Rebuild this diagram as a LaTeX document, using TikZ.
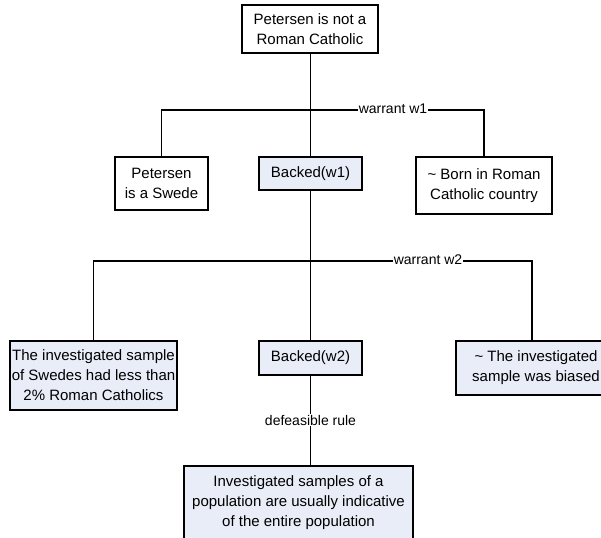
\documentclass[tikz,border=0pt]{standalone}
\usepackage{fontspec}
\setmainfont{Liberation Sans}
\definecolor{boxfill}{RGB}{232,237,247}
\begin{document}
\begin{tikzpicture}[x=1pt,y=-1pt,
  box/.style={draw=black,line width=1.8pt,rectangle,inner sep=0pt,align=center,
    font=\fontsize{15}{20}\selectfont},
  wbox/.style={box,fill=white},
  bbox/.style={box,fill=boxfill},
  conn/.style={draw=black,line width=1.8pt},
  lbl/.style={fill=white,inner sep=1pt,font=\fontsize{14}{16}\selectfont}]
\clip (0,0) rectangle (601,537);
\fill[white] (0,0) rectangle (601,537);
\node[wbox,minimum width=136pt,minimum height=48pt] (top) at (310,29) {Petersen is not a\\Roman Catholic};
\node[wbox,minimum width=93pt,minimum height=53pt] (pet) at (161.5,183.5) {Petersen\\is a Swede};
\node[bbox,minimum width=103pt,minimum height=33pt] (bw1) at (310.5,173.5) {Backed(w1)};
\node[wbox,minimum width=136pt,minimum height=57pt] (born) at (484,185.5) {\textasciitilde\ Born in Roman\\Catholic country};
\node[bbox,minimum width=167pt,minimum height=69pt] (left2) at (93.5,375.5) {The investigated sample\\of Swedes had less than\\2\% Roman Catholics};
\node[bbox,minimum width=160pt,minimum height=54pt] (right2) at (536,368) {\textasciitilde\ The investigated\\sample was biased};
\node[bbox,minimum width=103pt,minimum height=34pt] (bw2) at (310.5,358) {Backed(w2)};
\node[bbox,minimum width=229pt,minimum height=74pt] (bot) at (298.5,503) {Investigated samples of a\\population are usually indicative\\of the entire population};
\coordinate (j1) at (310.5,110);
\coordinate (j2) at (310.5,261);
\coordinate (c2) at (532,341);
\draw[conn] (top.south -| bw1.north) -- (bw1.north);
\draw[conn] (pet.north) |- (j1) -| (born.north);
\node[lbl] (w1) at (393,109) {warrant w1};
\draw[conn] (bw1.south) -- (bw2.north);
\draw[conn] (left2.north) |- (j2) -| (c2);
\node[lbl] (w2) at (428,260) {warrant w2};
\draw[conn] (bw2.south) -- (bw2.south |- bot.north);
\node[lbl] (dr) at (310.5,420) {defeasible rule};
\end{tikzpicture}
\end{document}
